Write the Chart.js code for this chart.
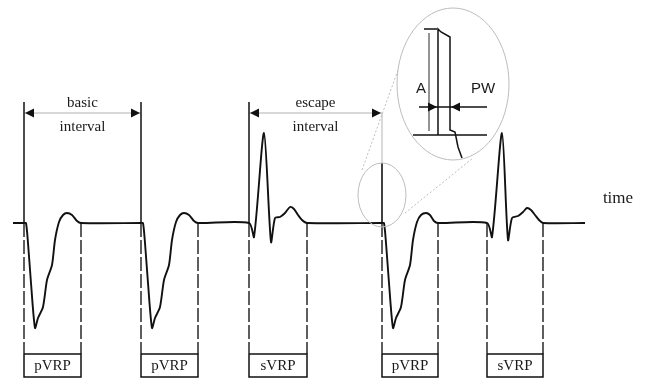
<!DOCTYPE html>
<html>
<head>
<meta charset="utf-8">
<script src="https://cdn.jsdelivr.net/npm/chart.js@4.4.1/dist/chart.umd.min.js"></script>
<style>
  html, body { margin: 0; padding: 0; background: #fff; }
  #wrap { width: 647px; height: 379px; }
</style>
</head>
<body>
<div id="wrap"><canvas id="myChart" width="647" height="379"></canvas></div>
<script>
// time runs left to right (arbitrary units), amplitude: 0 = baseline, up = positive
var pacedBeat1 = [[24,0],[26,0],[28,-20],[31,-60],[35,-105],[38,-95],[43,-84],[47,-57],[52,-42],[55,-17],[59,1],[63,8],[67,10],[72,8],[77,2],[81,0]];
var pacedBeat2 = [[141,0],[143,0],[145,-20],[148,-60],[152,-105],[155,-95],[160,-84],[164,-57],[169,-42],[172,-17],[176,1],[180,8],[184,10],[189,8],[194,2],[198,0]];
var sensedBeat1 = [[249,0],[254,-14],[264,90],[271,-19],[275,5],[280,6],[285,10],[290,16],[294,14],[298,8],[302,3],[307,0]];
var pacedBeat3 = [[382,0],[384,0],[386,-20],[389,-60],[393,-105],[396,-95],[401,-84],[405,-57],[410,-42],[413,-17],[417,1],[421,8],[426,10],[430,8],[434,2],[438,0]];
var sensedBeat2 = [[487,0],[492,-14],[502,90],[508,-17],[512,5],[518,7],[523,11],[527,15],[531,13],[535,8],[539,3],[543,0]];
var traceStart = 13, traceEnd = 585;

// pacing spike of the third paced beat
var paceSpike = [[382,0],[382,60]];

// interval markers
var markerTimes = [24, 141, 249];
var intervalStart = [24, 249];
var intervalEnd = [141, 382];
var intervalLabels = [["basic", "interval"], ["escape", "interval"]];

// refractory periods
var vrpStart = [24, 141, 249, 382, 487];
var vrpEnd = [81, 198, 307, 438, 543];
var vrpLabels = ["pVRP", "pVRP", "sVRP", "pVRP", "sVRP"];

// magnified pacing pulse
var pulseDetail = [[438,88],[438,194],[441,191],[450,186],[450,93],[455,91],[456,86],[458,76],[462,65]];

// layout levels (amplitude units)
var markerTop = 121, arrowLevel = 110, boxTop = -131, boxBottom = -154;

function pts(arr) {
  return arr.map(function (p) { return { x: p[0], y: p[1] }; });
}

var ecg = [[traceStart,0]].concat(pacedBeat1, pacedBeat2, sensedBeat1, pacedBeat3, sensedBeat2, [[traceEnd,0]]);

var datasets = [];
function addLine(data, opts) {
  datasets.push(Object.assign({
    data: pts(data),
    showLine: true,
    pointRadius: 0,
    borderColor: "#111",
    borderWidth: 1.4,
    tension: 0,
    fill: false,
  }, opts || {}));
}

// ECG trace
addLine(ecg, { borderWidth: 1.9, tension: 0.25 });
addLine(paceSpike, { borderWidth: 1.6 });
// gray continuation of the escape marker
addLine([[382,60],[382,arrowLevel]], { borderColor: "#b5b5b5", borderWidth: 1 });

markerTimes.forEach(function (t) {
  addLine([[t,0],[t,markerTop]], { borderWidth: 1.5 });
});

// interval arrows (gray shaft)
intervalStart.forEach(function (s, i) {
  addLine([[s,arrowLevel],[intervalEnd[i],arrowLevel]], { borderColor: "#b0b0b0", borderWidth: 1 });
});

// dashed VRP edges and boxes
vrpStart.forEach(function (s, i) {
  var e = vrpEnd[i];
  addLine([[s,0],[s,boxTop]], { borderDash: [14,3], borderWidth: 1.4, borderColor: "#1a1a1a" });
  addLine([[e,0],[e,boxTop]], { borderDash: [14,3], borderWidth: 1.4, borderColor: "#1a1a1a" });
  addLine([[s,boxTop],[e,boxTop],[e,boxBottom],[s,boxBottom],[s,boxTop]], { borderWidth: 1.5 });
});

// magnifier contents
addLine([[413,88],[487,88]], { borderWidth: 1.5 });
addLine([[419,116],[487,116]], { borderWidth: 1.5 });
addLine([[424,194],[437,194]], { borderWidth: 1.5 });
addLine([[429,92],[429,190]], { borderWidth: 0.9 });
addLine(pulseDetail, { borderWidth: 1.5 });

// projection lines from small circle to magnifier
addLine([[362,53],[398,153]], { borderColor: "#bdbdbd", borderWidth: 1, borderDash: [2,2] });
addLine([[405,10],[473,65]], { borderColor: "#bdbdbd", borderWidth: 1, borderDash: [2,2] });

var decorPlugin = {
  id: "decor",
  afterDatasetsDraw: function (chart) {
    var ctx = chart.ctx;
    var xs = chart.scales.x, ys = chart.scales.y;
    var X = function (v) { return xs.getPixelForValue(v); };
    var Y = function (v) { return ys.getPixelForValue(v); };

    function head(t, a, dir) {
      var px = X(t), py = Y(a);
      ctx.beginPath();
      ctx.moveTo(px, py);
      ctx.lineTo(px - dir * 9, py - 4.5);
      ctx.lineTo(px - dir * 9, py + 4.5);
      ctx.closePath();
      ctx.fillStyle = "#111";
      ctx.fill();
    }
    function ellipse(t, a, rt, ra) {
      ctx.beginPath();
      ctx.ellipse(X(t), Y(a), Math.abs(X(t + rt) - X(t)), Math.abs(Y(a + ra) - Y(a)), 0, 0, Math.PI * 2);
      ctx.strokeStyle = "#bcbcbc";
      ctx.lineWidth = 1;
      ctx.stroke();
    }

    ctx.save();
    ellipse(382, 28, 24, 32);
    ellipse(453, 139, 56, 76);

    intervalStart.forEach(function (s, i) {
      head(s + 1, arrowLevel, -1);
      head(intervalEnd[i] - 1, arrowLevel, 1);
    });
    head(437, 116, 1);
    head(451, 116, -1);

    ctx.fillStyle = "#1a1a1a";
    ctx.textAlign = "center";
    ctx.textBaseline = "middle";
    ctx.font = "15px 'Liberation Serif', 'DejaVu Serif', serif";
    intervalLabels.forEach(function (lab, i) {
      var cx = (intervalStart[i] + intervalEnd[i]) / 2;
      ctx.fillText(lab[0], X(cx), Y(arrowLevel + 10));
      ctx.fillText(lab[1], X(cx), Y(arrowLevel - 14));
    });
    vrpLabels.forEach(function (lab, i) {
      ctx.fillText(lab, X((vrpStart[i] + vrpEnd[i]) / 2), Y((boxTop + boxBottom) / 2) + 1);
    });
    ctx.font = "17px 'Liberation Serif', 'DejaVu Serif', serif";
    ctx.fillText("time", X(618), Y(24));
    ctx.font = "15px 'Liberation Sans', Arial, sans-serif";
    ctx.fillText("A", X(421), Y(134));
    ctx.fillText("PW", X(483), Y(134));
    ctx.restore();
  },
};

var myChart = new Chart(document.getElementById("myChart").getContext("2d"), {
  type: "scatter",
  data: { datasets: datasets },
  options: {
    responsive: false,
    animation: false,
    layout: { padding: 0 },
    plugins: {
      legend: { display: false },
      tooltip: { enabled: false },
    },
    scales: {
      x: { type: "linear", min: 0, max: 647, display: false },
      y: { type: "linear", min: -156, max: 223, display: false },
    },
  },
  plugins: [decorPlugin],
});
</script>
</body>
</html>
